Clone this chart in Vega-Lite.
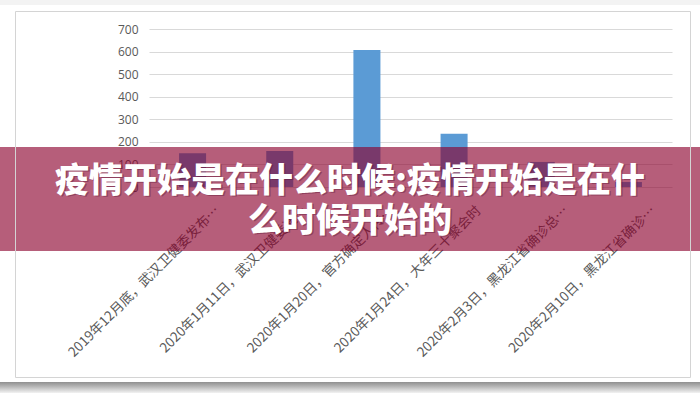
{
  "$schema": "https://vega.github.io/schema/vega-lite/v6.json",
  "width": 523,
  "height": 158,
  "autosize": {"type": "none"},
  "padding": {"left": 149, "top": 29, "right": 28, "bottom": 213},
  "background": "#ffffff",
  "config": {"view": {"stroke": null}},
  "layer": [
    {
      "data": {"values": [
        {"事件": "2019年12月底，武汉卫健委发布…", "人数": 150},
        {"事件": "2020年1月11日，武汉卫健委通…", "人数": 160},
        {"事件": "2020年1月20日，官方确定人传…", "人数": 607},
        {"事件": "2020年1月24日，大年三十聚会时", "人数": 236},
        {"事件": "2020年2月3日，黑龙江省确诊总…", "人数": 111},
        {"事件": "2020年2月10日，黑龙江省确诊…", "人数": 22}
      ]},
      "mark": {"type": "bar", "color": "#5b9bd5"},
      "encoding": {
        "x": {
          "field": "事件", "type": "nominal", "sort": null,
          "scale": {"paddingInner": 0.69, "paddingOuter": 0.345},
          "axis": {
            "title": null, "labelAngle": -45, "labelAlign": "right", "labelBaseline": "middle",
            "labelOffset": 25, "labelPadding": 21, "labelFontSize": 13.5, "labelColor": "#595959",
            "labelFont": "Noto Sans CJK SC", "labelLimit": 400, "ticks": false, "domain": false, "grid": false
          }
        },
        "y": {
          "field": "人数", "type": "quantitative",
          "scale": {"domain": [0, 700], "nice": false},
          "axis": {
            "title": null, "values": [0, 100, 200, 300, 400, 500, 600, 700], "grid": true,
            "gridColor": "#d9d9d9", "gridWidth": 1, "ticks": false, "domain": false, "labelPadding": 11,
            "labelFontSize": 12, "labelColor": "#595959", "labelFont": "Open Sans"
          }
        }
      }
    },
    {
      "data": {"values": [{}]},
      "layer": [
        {
          "mark": {"type": "rect", "fill": "#8c002c", "opacity": 0.63},
          "encoding": {
            "x": {"datum": 0, "type": "quantitative", "scale": {"domain": [149, 672], "nice": false, "zero": false}, "axis": null},
            "x2": {"datum": 700},
            "y": {"datum": 147, "type": "quantitative", "scale": {"domain": [29, 187], "reverse": true, "nice": false, "zero": false}, "axis": null},
            "y2": {"datum": 251}
          }
        },
        {
          "mark": {"type": "text", "text": ["疫情开始是在什么时候:疫情开始是在什", "么时候开始的"], "font": "Noto Sans CJK SC", "fontWeight": 900, "fontSize": 34, "lineHeight": 40, "align": "center", "baseline": "middle", "fill": "#5a1434", "opacity": 0.4, "dx": 1.5, "dy": 1.5},
          "encoding": {
            "x": {"datum": 350, "type": "quantitative"},
            "y": {"datum": 181.5, "type": "quantitative"}
          }
        },
        {
          "mark": {"type": "text", "text": ["疫情开始是在什么时候:疫情开始是在什", "么时候开始的"], "font": "Noto Sans CJK SC", "fontWeight": 900, "fontSize": 34, "lineHeight": 40, "align": "center", "baseline": "middle", "fill": "#ffffff"},
          "encoding": {
            "x": {"datum": 350, "type": "quantitative"},
            "y": {"datum": 181.5, "type": "quantitative"}
          }
        },
        {
          "mark": {"type": "rect", "fill": null, "stroke": "#d4d4d4", "strokeWidth": 1},
          "encoding": {
            "x": {"datum": 15.5, "type": "quantitative"},
            "x2": {"datum": 690.5},
            "y": {"datum": 11.5, "type": "quantitative"},
            "y2": {"datum": 377.5}
          }
        },
        {
          "mark": {"type": "rect", "fill": {"gradient": "linear", "x1": 0, "y1": 0, "x2": 0, "y2": 1, "stops": [{"offset": 0, "color": "#8f8f8f"}, {"offset": 0.4, "color": "#b5b5b5"}, {"offset": 1, "color": "#f2f2f2"}]}},
          "encoding": {
            "x": {"datum": 0, "type": "quantitative"},
            "x2": {"datum": 700},
            "y": {"datum": 382, "type": "quantitative"},
            "y2": {"datum": 393}
          }
        },
        {
          "mark": {"type": "rect", "fill": "#f3f3f3"},
          "encoding": {
            "x": {"datum": 0, "type": "quantitative"},
            "x2": {"datum": 700},
            "y": {"datum": 0, "type": "quantitative"},
            "y2": {"datum": 5}
          }
        }
      ]
    }
  ],
  "resolve": {"scale": {"x": "independent", "y": "independent"}}
}
